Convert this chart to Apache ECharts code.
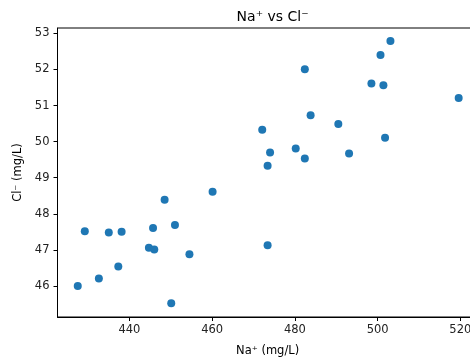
<!DOCTYPE html>
<html><head><meta charset="utf-8">
<script src="https://cdn.jsdelivr.net/npm/echarts@6/dist/echarts.min.js"></script>
<style>html,body{margin:0;padding:0;background:#fff;overflow:hidden}#c{width:470px;height:362px}</style>
</head><body><div id="c"></div>
<script>
const naValues = [482.4,503.1,500.7,498.5,501.4,519.6,483.8,472.1,490.5,501.8,474.0,480.2,482.4,493.1,473.4,460.1,448.5,445.7,451.0,429.2,435.0,438.1,444.7,446.0,454.5,473.4,437.3,432.6,427.5,450.1];
const clValues = [52.01,52.79,52.40,51.61,51.56,51.21,50.73,50.33,50.49,50.11,49.70,49.81,49.53,49.67,49.33,48.61,48.39,47.61,47.69,47.52,47.48,47.50,47.06,47.01,46.88,47.13,46.54,46.21,46.00,45.52];
const xTicks = [440,460,480,500,520];
const yTicks = [46,47,48,49,50,51,52,53];
const titleText = 'Na\u207A vs Cl\u207B';
const xName = 'Na\u207A (mg/L)';
const yName = 'Cl\u207B (mg/L)';

const points = naValues.map((v,i)=>[v, clValues[i]]);
const font = 'DejaVu Sans';
const chart = echarts.init(document.getElementById('c'), null, {renderer:'canvas'});
chart.setOption({
  animation:false,
  title:{text:titleText, left:267.6, textAlign:'center', top:5, textStyle:{fontFamily:font, fontSize:14, fontWeight:'normal', color:'#000'}},
  grid:{left:57.5, top:28, width:420.2, height:289, show:true, borderColor:'#000', borderWidth:1, backgroundColor:'transparent', containLabel:false, outerBoundsMode:'none'},
  xAxis:{type:'value', min:422.6, max:524.2, name:xName, nameLocation:'middle', nameGap:28,
    nameTextStyle:{fontFamily:font, fontSize:11.5, color:'#000'},
    splitLine:{show:false},
    axisLine:{show:true, onZero:false, lineStyle:{color:'#000', width:1}},
    axisTick:{show:true, length:4, lineStyle:{color:'#000'}, customValues:xTicks},
    axisLabel:{fontFamily:font, fontSize:11.5, color:'#222', margin:7, customValues:xTicks}},
  yAxis:{type:'value', min:45.14, max:53.15, name:yName, nameLocation:'middle', nameGap:33,
    nameTextStyle:{fontFamily:font, fontSize:11.5, color:'#000'},
    splitLine:{show:false},
    axisLine:{show:true, onZero:false, lineStyle:{color:'#000', width:1}},
    axisTick:{show:true, length:4, lineStyle:{color:'#000'}, customValues:yTicks},
    axisLabel:{fontFamily:font, fontSize:11.5, color:'#222', margin:8, customValues:yTicks}},
  series:[{type:'scatter', data:points, symbolSize:8, itemStyle:{color:'#1f77b4', opacity:1}}]
});
</script></body></html>
